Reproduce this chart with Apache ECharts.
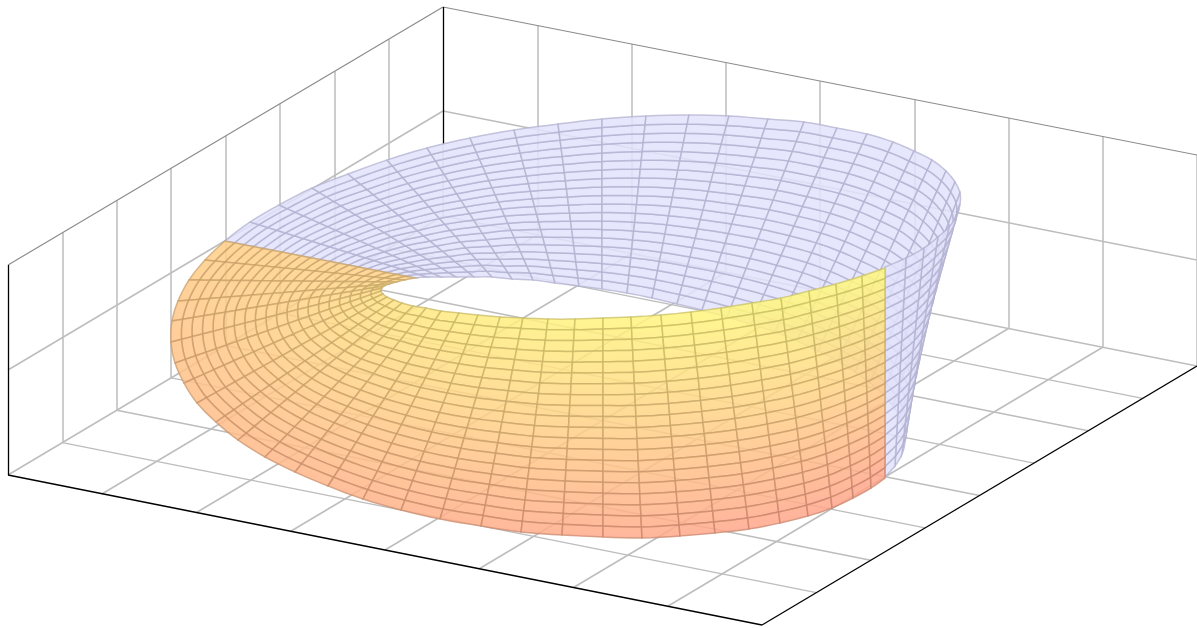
<!DOCTYPE html>
<html><head><meta charset="utf-8"><style>html,body{margin:0;background:#fff}#c{width:1197px;height:628px}</style>
<script src="https://cdn.jsdelivr.net/npm/echarts@6/dist/echarts.min.js"></script></head>
<body><div id="c"></div><script>
// Each rib of the strip is a straight segment from edge A to edge B (readings in picture units).
var edgeAX=[885,862,836,809,781,752,721,691,661,631,603,575,548,523,500,478,459,441,426,413,402,394,387,383,381,382,384,389,396,404,415,427,441,456,474,492,512,533,555,579,602,627,652,677,702,727,751,775,797,818,838,855,870,883,893,900,904,905,902,895,885];
var edgeAY=[268,276,284,291,298,303,308,312,315,317,318,319,319,318,317,315,313,311,308,306,303,300,297,294,291,288,286,284,282,280,278,277,277,277,277,277,279,280,283,286,289,293,298,304,310,317,324,332,341,351,361,372,383,394,406,418,430,442,454,466,477];
var edgeBX=[885,871,853,832,808,780,749,715,680,642,603,562,521,481,440,401,363,328,295,265,238,216,197,184,175,171,172,178,189,205,225,250,279,312,348,387,427,470,514,558,602,646,689,729,768,804,837,867,893,914,932,946,955,960,960,957,949,938,924,906,885];
var edgeBY=[478,488,498,508,516,523,529,533,536,538,537,535,532,526,519,510,499,486,472,457,440,422,403,383,363,342,321,301,280,260,241,222,205,188,174,160,148,138,130,124,119,116,115,116,119,122,128,134,142,151,160,171,182,193,204,215,227,237,248,258,267];
// Height of edge A on each rib of the coloured half (+1 top of the box, -1 bottom).
var ribLevel=[1,1,.99,.99,.98,.97,.95,.93,.91,.89,.87,.84,.81,.78,.74,.71,.67,.63,.59,.54,.5,.45,.41,.36,.31,.26,.21,.16,.1,.05,0];
var cellsAcross=20;
// Box corners
var floorLeft=[8,475],floorFront=[762,625],floorRight=[1197,366],floorBack=[443,216];
var topLeft=[8,265],topBack=[443,7],topRight=[1197,155];
var wallMidLeft=[8,370],wallMidBack=[443,111],wallMidRight=[1197,260];
var gridFractions=[.125,.25,.375,.5,.625,.75,.875];

function mix(p,q,t){return [p[0]+(q[0]-p[0])*t,p[1]+(q[1]-p[1])*t];}
function seg(p,q){return {coords:[p,q]};}
var grid=[];
gridFractions.forEach(function(f){
  grid.push(seg(mix(floorLeft,floorBack,f),mix(topLeft,topBack,f)));
  grid.push(seg(mix(floorBack,floorRight,f),mix(topBack,topRight,f)));
  grid.push(seg(mix(floorLeft,floorFront,f),mix(floorBack,floorRight,f)));
  grid.push(seg(mix(floorLeft,floorBack,f),mix(floorFront,floorRight,f)));
});
grid.push(seg(wallMidLeft,wallMidBack),seg(wallMidBack,wallMidRight),seg(floorBack,[443,144]),seg(floorLeft,floorBack),seg(floorBack,floorRight),seg(floorRight,topRight));
var rim=[seg(topLeft,topBack),seg(topBack,topRight)];
var axes=[seg(topLeft,floorLeft),seg(floorLeft,floorFront),seg(floorFront,floorRight),seg(topBack,[443,144])];

var hiColor=[255,248,125],midColor=[255,208,135],loColor=[255,165,138];
function colorAt(h,scale,alpha){
  var a=h>=0?midColor:loColor,b=h>=0?hiColor:midColor,t=h>=0?h:h+1;
  return 'rgba('+[0,1,2].map(function(i){return Math.round((a[i]+(b[i]-a[i])*t)*scale)}).join(',')+','+alpha+')';
}
function cells(from,to){var d=[],st=from<to?1:-1;for(var k=from;k!==to;k+=st)for(var j=0;j<cellsAcross;j++)d.push([k,j,k+st]);return d;}
function pt(k,j){k=Math.max(0,Math.min(60,k));var t=j/cellsAcross;return [edgeAX[k]+(edgeBX[k]-edgeAX[k])*t,edgeAY[k]+(edgeBY[k]-edgeAY[k])*t];}
// Smooth a mesh line between two neighbouring ribs, like a line series with smooth on.
function crossLine(lo,j,steps){
  var p0=pt(lo-1,j),p1=pt(lo,j),p2=pt(lo+1,j),p3=pt(lo+2,j),out=[];
  for(var i=0;i<=steps;i++){var t=i/steps,t2=t*t,t3=t2*t;
    out.push([0,1].map(function(c){return .5*(2*p1[c]+(p2[c]-p0[c])*t+(2*p0[c]-5*p1[c]+4*p2[c]-p3[c])*t2+(3*p1[c]-p0[c]-3*p2[c]+p3[c])*t3);}));}
  return out;
}
function makeRender(kind){return function(p,api){
  var k=api.value(0),j=api.value(1),n=api.value(2),lo=Math.min(k,n);
  var near=crossLine(lo,j,4).map(api.coord),far=crossLine(lo,j+1,4).map(api.coord).reverse();
  var pts=near.concat(far),style;
  if(kind==='blue'){style={fill:'rgba(226,226,252,0.85)',stroke:'rgba(178,178,208,0.75)',lineWidth:1.5};}
  else{
    var t0=j/cellsAcross,t1=(j+1)/cellsAcross,l0=ribLevel[lo];
    var h0=l0*(1-2*t0),h1=l0*(1-2*t1);
    var m0=near[2],m1=far[2];
    style={fill:new echarts.graphic.LinearGradient(m0[0],m0[1],m1[0]+.01,m1[1]+.01,[{offset:0,color:colorAt(h0,1,.85)},{offset:1,color:colorAt(h1,1,.85)}],true),
      stroke:colorAt((h0+h1)/2,.79,.74),lineWidth:1.5};
  }
  return {type:'polygon',shape:{points:pts},style:style,silent:true};
};}
function lineSeries(data,color,width,z){return {type:'lines',coordinateSystem:'cartesian2d',data:data,silent:true,z:z,animation:false,
  lineStyle:{color:color,width:width,opacity:1},effect:{show:false}};}
function surface(kind,data,z){return {type:'custom',coordinateSystem:'cartesian2d',renderItem:makeRender(kind),data:data,z:z,silent:true,animation:false,clip:false,progressive:0};}

var chart=echarts.init(document.getElementById('c'),null,{renderer:'canvas'});
chart.setOption({animation:false,backgroundColor:'#fff',tooltip:{show:false},
  grid:{left:0,right:0,top:0,bottom:0},
  xAxis:{type:'value',min:0,max:1197,show:false},
  yAxis:{type:'value',min:0,max:628,inverse:true,show:false},
  series:[
    lineSeries(grid,'#bdbdbd',1.5,1),
    lineSeries(rim,'#8c8c8c',1.2,2),
    lineSeries(axes,'#000',1.3,3),
    surface('blue',cells(30,60),4),
    surface('front',cells(30,0),5)
  ]});
</script></body></html>
